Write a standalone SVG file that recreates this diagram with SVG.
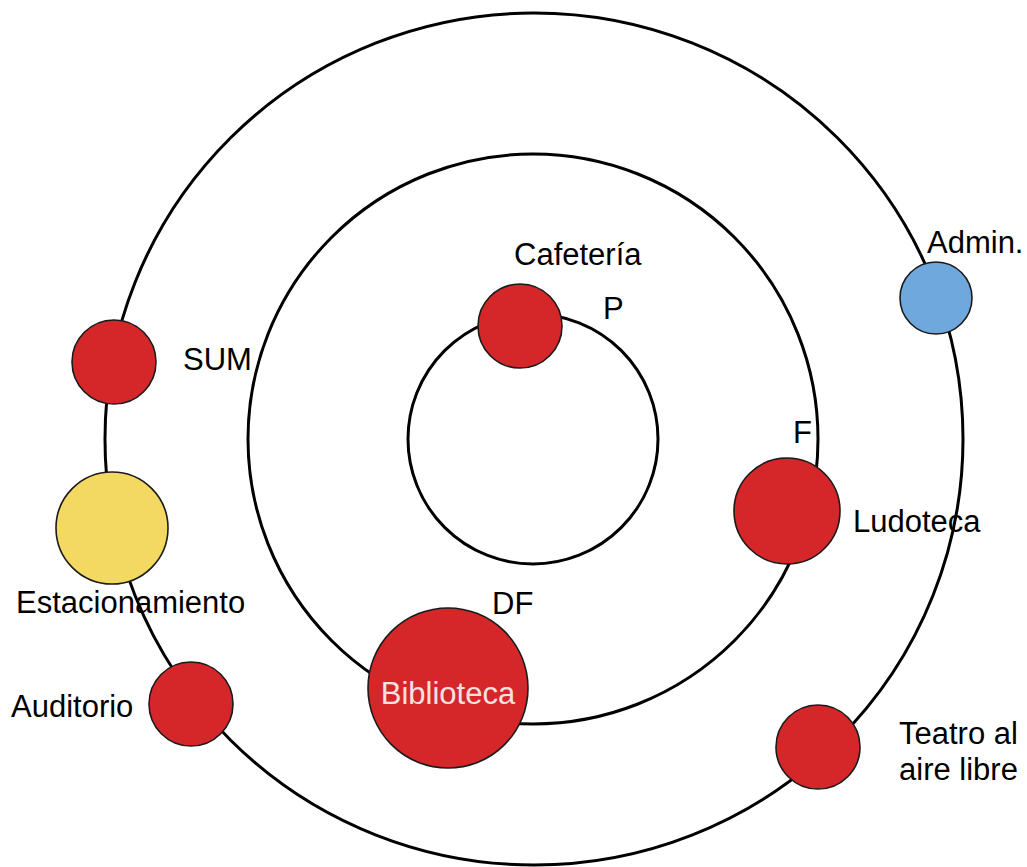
<svg xmlns="http://www.w3.org/2000/svg" width="1027" height="867" viewBox="0 0 1027 867">
  <style>
    .ring { fill: none; stroke: #000; stroke-width: 3; }
    .node { stroke: #1a1a1a; stroke-width: 1.6; }
    .red { fill: #d5272a; }
    .blue { fill: #6fa8dc; }
    .yellow { fill: #f3d862; }
    .lbl { font-family: "Liberation Sans", Arial, sans-serif; font-size: 31px; fill: #000; }
    .inlbl { font-family: "Liberation Sans", Arial, sans-serif; font-size: 31px; fill: #f6e0e0; }
  </style>
  <rect width="1027" height="867" fill="#fff"/>
  <g id="connectors">
    <ellipse class="ring" cx="534" cy="439" rx="429" ry="426"/>
    <circle class="ring" cx="533" cy="439" r="285"/>
    <circle class="ring" cx="533" cy="439" r="125"/>
  </g>
  <g id="ring-labels">
    <text class="lbl" x="603" y="319">P</text>
    <text class="lbl" x="793" y="443">F</text>
    <text class="lbl" x="492" y="614">DF</text>
  </g>
  <g id="cafeteria">
    <circle class="node red" cx="520" cy="326" r="42"/>
    <text class="lbl" x="514" y="265">Cafetería</text>
  </g>
  <g id="sum">
    <circle class="node red" cx="114" cy="362" r="42"/>
    <text class="lbl" x="183" y="370">SUM</text>
  </g>
  <g id="estacionamiento">
    <circle class="node yellow" cx="112" cy="528" r="56"/>
    <text class="lbl" x="16" y="613">Estacionamiento</text>
  </g>
  <g id="auditorio">
    <circle class="node red" cx="191" cy="704" r="42"/>
    <text class="lbl" x="11" y="717">Auditorio</text>
  </g>
  <g id="biblioteca">
    <circle class="node red" cx="448" cy="688" r="80"/>
    <text class="inlbl" x="448" y="704" text-anchor="middle">Biblioteca</text>
  </g>
  <g id="ludoteca">
    <circle class="node red" cx="787" cy="511" r="53"/>
    <text class="lbl" x="853" y="532">Ludoteca</text>
  </g>
  <g id="admin">
    <circle class="node blue" cx="936" cy="298" r="36"/>
    <text class="lbl" x="927" y="253">Admin.</text>
  </g>
  <g id="teatro">
    <circle class="node red" cx="818" cy="747" r="42"/>
    <text class="lbl" x="899" y="744">Teatro al</text>
    <text class="lbl" x="899" y="780">aire libre</text>
  </g>
</svg>
